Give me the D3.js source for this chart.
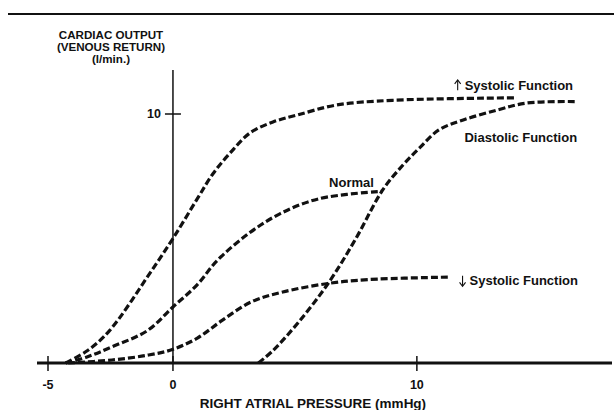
<!DOCTYPE html>
<html>
<head>
<meta charset="utf-8">
<script src="https://cdn.jsdelivr.net/npm/d3@7"></script>
<style>
  body { margin: 0; background: #fff; }
  text { font-family: "Liberation Sans", Arial, sans-serif; font-weight: bold; fill: #111; }
</style>
</head>
<body>
<svg width="614" height="410"></svg>
<script>
// curves: [right atrial pressure, cardiac output]
var systolicUp = [[-4.4,0],[-3.5,0.5],[-2.6,1.3],[-0.95,3.6],[0,5.0],[1.0,6.6],[1.64,7.6],[2.34,8.43],[3.16,9.24],[4.1,9.68],[5.1,9.96],[6.7,10.36],[9,10.55],[14.1,10.65]];
var normal = [[-4.4,0],[-3.5,0.25],[-2.5,0.65],[-1.05,1.3],[0,2.25],[1,3.15],[1.8,4.1],[3.1,5.2],[4.4,6.0],[6,6.6],[8.6,6.9]];
var systolicDown = [[-4.3,0],[-2.5,0.12],[-1,0.32],[0,0.55],[1,1.0],[2,1.7],[3.2,2.45],[4.5,2.85],[6.4,3.2],[8,3.35],[11.3,3.45]];
var diastolic = [[3.5,0],[4.1,0.5],[5.2,1.7],[6.4,3.25],[7.5,5.0],[8.6,6.95],[9.43,7.95],[10.1,8.63],[10.9,9.36],[11.9,9.76],[13.3,10.16],[14.5,10.44],[16.5,10.5]];

var xTicks = [-5, 0, 10];
var yTicks = [10];

// arrow: +1 up, -1 down, 0 none
var curveLabels = [
  {arrow: 1, text: "Systolic Function", x: 11.55, y: 11.15},
  {arrow: 0, text: "Diastolic Function", x: 11.95, y: 9.05},
  {arrow: 0, text: "Normal", x: 6.4, y: 7.25},
  {arrow: -1, text: "Systolic Function", x: 11.75, y: 3.3}
];

var svg = d3.select("svg");

var x = d3.scaleLinear().domain([-5, 18]).range([51, 612]);
var y = d3.scaleLinear().domain([0, 10]).range([363, 114]);

// top rule
svg.append("line")
  .attr("x1", 8).attr("x2", 614)
  .attr("y1", 14).attr("y2", 14)
  .attr("stroke", "#111").attr("stroke-width", 2);

// y axis
svg.append("line")
  .attr("x1", x(0)).attr("x2", x(0))
  .attr("y1", y(0)).attr("y2", 70)
  .attr("stroke", "#111").attr("stroke-width", 1.5);

svg.selectAll(".ytick").data(yTicks).enter().append("line")
  .attr("x1", x(0) - 8).attr("x2", x(0) + 8)
  .attr("y1", function(d) { return y(d); })
  .attr("y2", function(d) { return y(d); })
  .attr("stroke", "#111").attr("stroke-width", 1.5);

svg.selectAll(".ylab").data(yTicks).enter().append("text")
  .attr("x", x(0) - 12)
  .attr("y", function(d) { return y(d); })
  .attr("dy", "0.35em")
  .attr("text-anchor", "end")
  .attr("font-size", 12.5)
  .text(function(d) { return d; });

// x axis
svg.append("line")
  .attr("x1", 37).attr("x2", 612)
  .attr("y1", y(0)).attr("y2", y(0))
  .attr("stroke", "#111").attr("stroke-width", 3);

svg.selectAll(".xtick").data(xTicks).enter().append("line")
  .attr("x1", function(d) { return x(d) - (d == -5 ? 3 : 0); })
  .attr("x2", function(d) { return x(d) - (d == -5 ? 3 : 0); })
  .attr("y1", y(0) - 7).attr("y2", y(0) + 8)
  .attr("stroke", "#111").attr("stroke-width", 1.5);

svg.selectAll(".xlab").data(xTicks).enter().append("text")
  .attr("x", function(d) { return x(d) - (d == -5 ? 3 : 0); })
  .attr("y", 385)
  .attr("dy", "0.35em")
  .attr("text-anchor", "middle")
  .attr("font-size", 12.5)
  .text(function(d) { return d; });

svg.append("text")
  .attr("x", 313).attr("y", 403)
  .attr("dy", "0.35em")
  .attr("text-anchor", "middle")
  .attr("font-size", 13.5)
  .text("RIGHT ATRIAL PRESSURE (mmHg)");

// y axis title
var yTitle = ["CARDIAC OUTPUT", "(VENOUS RETURN)", "(l/min.)"];
svg.selectAll(".ytitle").data(yTitle).enter().append("text")
  .attr("x", 111)
  .attr("y", function(d, i) { return 35 + i * 12; })
  .attr("dy", "0.35em")
  .attr("text-anchor", "middle")
  .attr("font-size", 11.6)
  .text(function(d) { return d; });

// curves
var line = d3.line()
  .x(function(d) { return x(d[0]); })
  .y(function(d) { return y(d[1]); })
  .curve(d3.curveCatmullRom.alpha(0.5));

svg.selectAll(".curve").data([systolicUp, normal, systolicDown, diastolic]).enter().append("path")
  .attr("d", line)
  .attr("fill", "none")
  .attr("stroke", "#111")
  .attr("stroke-width", 3.2)
  .attr("stroke-dasharray", "7,3");

// curve labels, arrows drawn as small strokes
var lab = svg.selectAll(".clab").data(curveLabels).enter().append("g")
  .attr("transform", function(d) { return "translate(" + x(d.x) + "," + y(d.y) + ")"; });

lab.append("text")
  .attr("x", function(d) { return d.arrow ? 10 : 0; })
  .attr("dy", "0.35em")
  .attr("font-size", 13)
  .text(function(d) { return d.text; });

var arr = lab.filter(function(d) { return d.arrow; });
arr.append("line")
  .attr("x1", 3).attr("x2", 3)
  .attr("y1", -5).attr("y2", 5)
  .attr("stroke", "#111").attr("stroke-width", 1.1);
arr.append("path")
  .attr("d", function(d) { return d.arrow > 0 ? "M0,-1.5L3,-5.5L6,-1.5" : "M0,1.5L3,5.5L6,1.5"; })
  .attr("fill", "none")
  .attr("stroke", "#111").attr("stroke-width", 1.1);
</script>
</body>
</html>
